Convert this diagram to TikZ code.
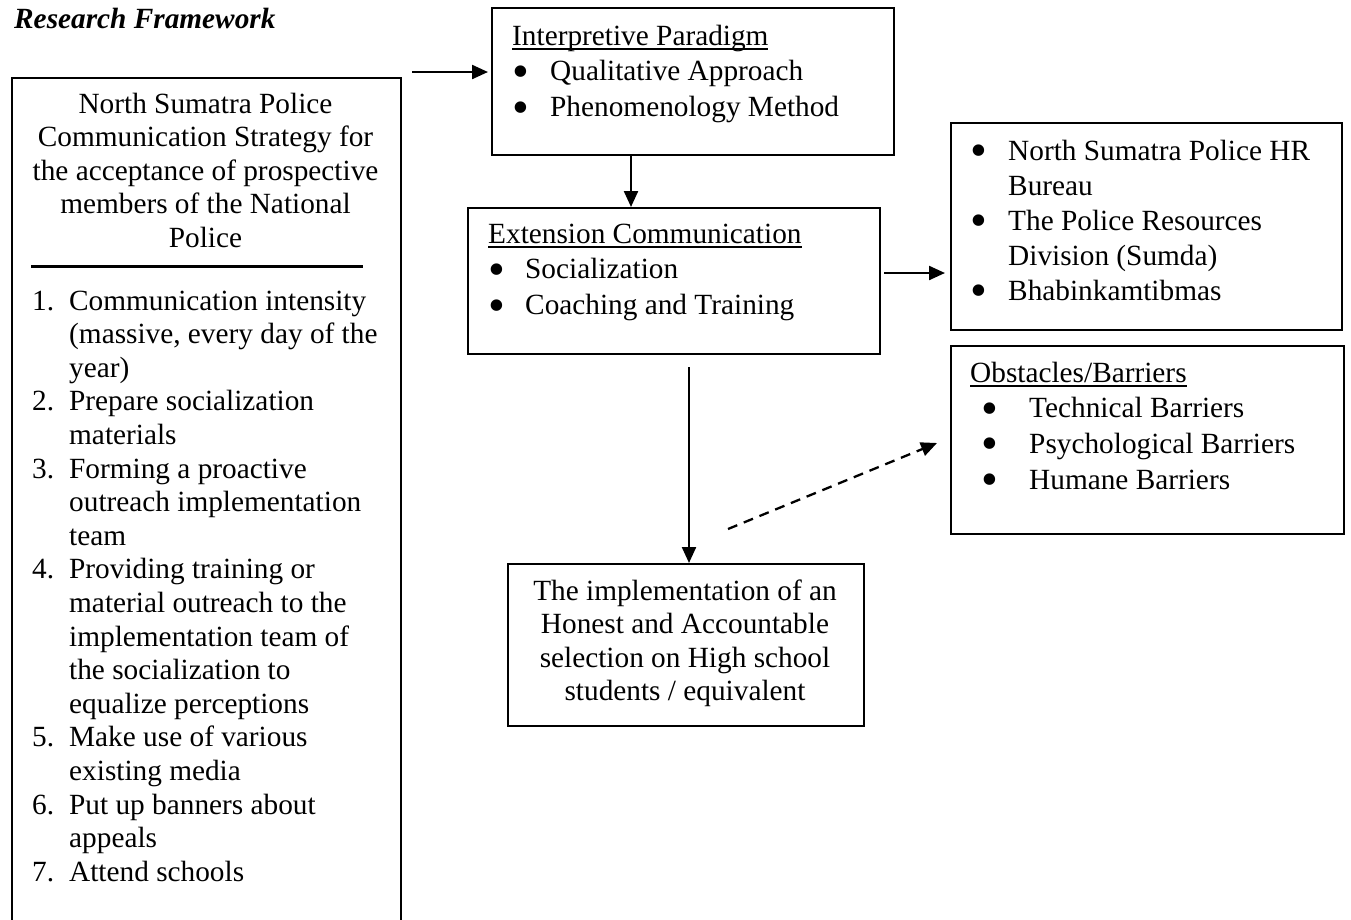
\documentclass[tikz,border=0pt]{standalone}
\usepackage{fontspec}
\setmainfont{Liberation Serif}
\usetikzlibrary{arrows.meta}

\newcommand{\ulined}[1]{\setbox0\hbox{#1}\rlap{\rule[-4.5pt]{\wd0}{1.5pt}}\box0}
\newcommand{\numitem}[2]{\makebox[37pt][l]{#1}#2}
\newcommand{\bulitem}[2]{\makebox[#1][l]{\smash{\raisebox{-6.5pt}{\fontsize{48}{33.6}\selectfont\textbullet}}}#2}

\tikzset{
  panel/.style={draw, line width=1.6pt, inner sep=0pt, anchor=north west},
  txt/.style={inner sep=0pt, font=\fontsize{29.3}{33.6}\selectfont},
  flow/.style={line width=2.3pt, -{Triangle[length=16pt,width=14pt]}},
}

\begin{document}
\begin{tikzpicture}[x=1pt,y=-1pt]
\useasboundingbox (0,0) rectangle (1351,919);

% boxes
\node[panel, minimum width=389pt, minimum height=900pt] (strat) at (11,77) {};
\node[panel, minimum width=402pt, minimum height=147pt] (interp) at (491,7) {};
\node[panel, minimum width=412pt, minimum height=146pt] (ext) at (467,207) {};
\node[panel, minimum width=391pt, minimum height=207pt] (hr) at (950,122) {};
\node[panel, minimum width=393pt, minimum height=188pt] (obst) at (950,345) {};
\node[panel, minimum width=356pt, minimum height=162pt] (impl) at (507,563) {};

% texts
\node[txt, anchor=base west, font=\fontsize{29.3}{33.6}\selectfont\bfseries\itshape] (title) at (14,28) {Research Framework};

\node[txt, anchor=base] (strathead) at (205.5,113) {\begin{tabular}[t]{@{}c@{}}
North Sumatra Police\\
Communication Strategy for\\
the acceptance of prospective\\
members of the National\\
Police
\end{tabular}};
\draw[line width=3pt] ([shift={(20,189)}]strat.north west) -- ([shift={(352,189)}]strat.north west);

\node[txt, anchor=base west] (stratlist) at (32,310) {\begin{tabular}[t]{@{}l@{}}
\numitem{1.}{Communication intensity}\\
\numitem{}{(massive, every day of the}\\
\numitem{}{year)}\\
\numitem{2.}{Prepare socialization}\\
\numitem{}{materials}\\
\numitem{3.}{Forming a proactive}\\
\numitem{}{outreach implementation}\\
\numitem{}{team}\\
\numitem{4.}{Providing training or}\\
\numitem{}{material outreach to the}\\
\numitem{}{implementation team of}\\
\numitem{}{the socialization to}\\
\numitem{}{equalize perceptions}\\
\numitem{5.}{Make use of various}\\
\numitem{}{existing media}\\
\numitem{6.}{Put up banners about}\\
\numitem{}{appeals}\\
\numitem{7.}{Attend schools}
\end{tabular}};

\node[txt, anchor=base west] (interptext) at (512,45) {\renewcommand{\arraystretch}{1.07}\begin{tabular}[t]{@{}l@{}}
\ulined{Interpretive Paradigm}\\
\bulitem{38pt}{Qualitative Approach}\\
\bulitem{38pt}{Phenomenology Method}
\end{tabular}};

\node[txt, anchor=base west] (exttext) at (488,243) {\renewcommand{\arraystretch}{1.07}\begin{tabular}[t]{@{}l@{}}
\ulined{Extension Communication}\\
\bulitem{37pt}{Socialization}\\
\bulitem{37pt}{Coaching and Training}
\end{tabular}};

\node[txt, anchor=base west] (hrtext) at (970,160) {\renewcommand{\arraystretch}{1.042}\begin{tabular}[t]{@{}l@{}}
\bulitem{38pt}{North Sumatra Police HR}\\
\hspace*{38pt}Bureau\\
\bulitem{38pt}{The Police Resources}\\
\hspace*{38pt}Division (Sumda)\\
\bulitem{38pt}{Bhabinkamtibmas}
\end{tabular}};

\node[txt, anchor=base west] (obsttext) at (970,382) {\renewcommand{\arraystretch}{1.0625}\begin{tabular}[t]{@{}l@{}}
\ulined{Obstacles/Barriers}\\
\hspace*{11pt}\bulitem{48pt}{Technical Barriers}\\
\hspace*{11pt}\bulitem{48pt}{Psychological Barriers}\\
\hspace*{11pt}\bulitem{48pt}{Humane Barriers}
\end{tabular}};

\node[txt, anchor=base] (impltext) at (685,600) {\begin{tabular}[t]{@{}c@{}}
The implementation of an\\
Honest and Accountable\\
selection on High school\\
students / equivalent
\end{tabular}};

% arrows
\coordinate (s1) at (412,72);
\draw[flow, shorten >=3pt] (s1) -- (s1 -| interp.west);
\coordinate (d1) at (631,156);
\draw[flow] (d1) -- (d1 |- ext.north);
\coordinate (r1) at (884,273);
\draw[flow, shorten >=5pt] (r1) -- (r1 -| hr.west);
\coordinate (d2) at (689,367);
\draw[flow] (d2) -- (d2 |- impl.north);
\coordinate (g1) at (728,529);
\draw[flow, dash pattern=on 10pt off 7pt] (g1) -- ([shift={(-13,98)}]obst.north west);
\end{tikzpicture}
\end{document}
